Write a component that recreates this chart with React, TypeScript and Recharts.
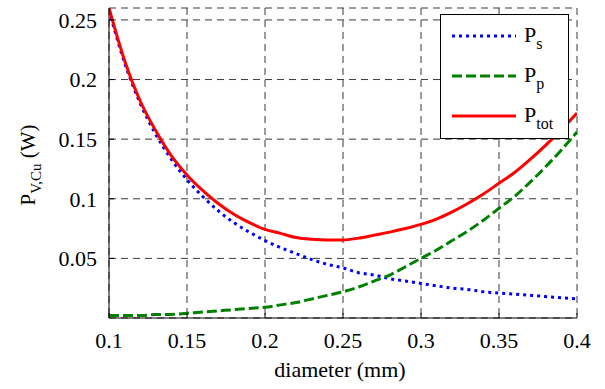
import { LineChart, Line, XAxis, YAxis, CartesianGrid, Legend } from 'recharts';

// diameter in mm
const diameters = [
  0.1, 0.11, 0.12, 0.13, 0.14, 0.15, 0.16, 0.17, 0.18, 0.19, 0.2, 0.21, 0.22, 0.23, 0.24, 0.25,
  0.26, 0.27, 0.28, 0.29, 0.3, 0.31, 0.32, 0.33, 0.34, 0.35, 0.36, 0.37, 0.38, 0.39, 0.4,
];
const psValues = [
  0.258, 0.214, 0.18, 0.154, 0.133, 0.116, 0.102, 0.09, 0.08, 0.072, 0.065, 0.059, 0.054, 0.049,
  0.045, 0.042, 0.038, 0.036, 0.033, 0.031, 0.029, 0.027, 0.025, 0.024, 0.022, 0.021, 0.02, 0.019,
  0.018, 0.017, 0.016,
];
const ppValues = [
  0.002, 0.002, 0.002, 0.003, 0.003, 0.004, 0.005, 0.006, 0.007, 0.008, 0.009, 0.011, 0.013, 0.016,
  0.019, 0.022, 0.026, 0.031, 0.036, 0.043, 0.05, 0.057, 0.065, 0.073, 0.082, 0.092, 0.102, 0.114,
  0.127, 0.141, 0.156,
];
const ptotValues = [
  0.26, 0.216, 0.182, 0.157, 0.136, 0.12, 0.107, 0.096, 0.087, 0.08, 0.0743, 0.071, 0.0675, 0.066,
  0.0654, 0.0654, 0.067, 0.0695, 0.072, 0.075, 0.0785, 0.083, 0.089, 0.096, 0.104, 0.113, 0.122,
  0.133, 0.145, 0.158, 0.172,
];
const xTicks = [0.1, 0.15, 0.2, 0.25, 0.3, 0.35, 0.4];
const yTicks = [0.05, 0.1, 0.15, 0.2, 0.25];

const series = [
  { key: 'ps', sub: 's', color: '#0000ff', dash: '3 4' },
  { key: 'pp', sub: 'p', color: '#008000', dash: '10 4' },
  { key: 'ptot', sub: 'tot', color: '#ff0000', dash: undefined },
];

const data = diameters.map((d, i) => ({
  d,
  ps: psValues[i],
  pp: ppValues[i],
  ptot: ptotValues[i],
}));

const FONT = 'Liberation Serif, Times New Roman, serif';
const tickStyle = { fontSize: 22, fill: '#000', fontFamily: FONT };

const renderLegend = () => (
  <div
    style={{
      width: 129,
      height: 125,
      border: '1.5px solid #000',
      background: '#fff',
      boxSizing: 'border-box',
    }}
  >
    <svg width={126} height={122} style={{ display: 'block' }}>
      {series.map((s, i) => {
        const y = 21 + i * 40;
        return (
          <g key={s.key}>
            <line x1={11} x2={75} y1={y} y2={y} stroke={s.color} strokeWidth={3} strokeDasharray={s.dash} />
            <text x={83} y={y + 6} fontSize={22} fontFamily={FONT} fill="#000">
              P
              <tspan fontSize={16} dy={7}>
                {s.sub}
              </tspan>
            </text>
          </g>
        );
      })}
    </svg>
  </div>
);

export default function App() {
  return (
    <div style={{ position: 'absolute', left: 0, top: 0, background: '#fff', fontFamily: FONT }}>
      <LineChart
        width={605}
        height={389}
        data={data}
        margin={{ top: 8, right: 28, bottom: 31, left: 49 }}
      >
        <CartesianGrid stroke="#3a3a3a" strokeDasharray="7 5" />
        <XAxis
          dataKey="d"
          type="number"
          domain={[0.1, 0.4]}
          ticks={xTicks}
          height={40}
          stroke="#000"
          tick={tickStyle}
          tickSize={-5}
          tickMargin={19}
          allowDataOverflow
          label={({ viewBox }: any) => (
            <text
              x={viewBox.x + viewBox.width / 2 - 3}
              y={377}
              textAnchor="middle"
              fontSize={22}
              fontFamily={FONT}
              fill="#000"
            >
              diameter (mm)
            </text>
          )}
        />
        <XAxis
          xAxisId="top"
          dataKey="d"
          type="number"
          orientation="top"
          domain={[0.1, 0.4]}
          ticks={xTicks}
          height={0}
          stroke="#000"
          tickSize={-5}
          tick={() => <g />}
          allowDataOverflow
        />
        <YAxis
          type="number"
          domain={[0, 0.26]}
          ticks={yTicks}
          width={60}
          stroke="#000"
          tick={tickStyle}
          tickSize={-5}
          tickMargin={17}
          allowDataOverflow
          label={() => (
            <text
              transform="rotate(-90, 35, 165)"
              x={35}
              y={165}
              textAnchor="middle"
              fontSize={21}
              fontFamily={FONT}
              fill="#000"
            >
              P
              <tspan fontSize={15} dy={6}>
                V,Cu
              </tspan>
              <tspan dy={-6}> (W)</tspan>
            </text>
          )}
        />
        <YAxis
          yAxisId="right"
          orientation="right"
          type="number"
          domain={[0, 0.26]}
          ticks={yTicks}
          width={0}
          stroke="#000"
          tickSize={-5}
          tick={() => <g />}
          allowDataOverflow
        />
        <Legend
          layout="vertical"
          align="center"
          verticalAlign="middle"
          content={renderLegend}
          wrapperStyle={{ position: 'absolute', left: 440, top: 14, width: 129, height: 125 }}
        />
        {series.map((s) => (
          <Line
            key={s.key}
            dataKey={s.key}
            type="monotone"
            stroke={s.color}
            strokeWidth={3}
            strokeDasharray={s.dash}
            dot={false}
            isAnimationActive={false}
          />
        ))}
      </LineChart>
    </div>
  );
}
